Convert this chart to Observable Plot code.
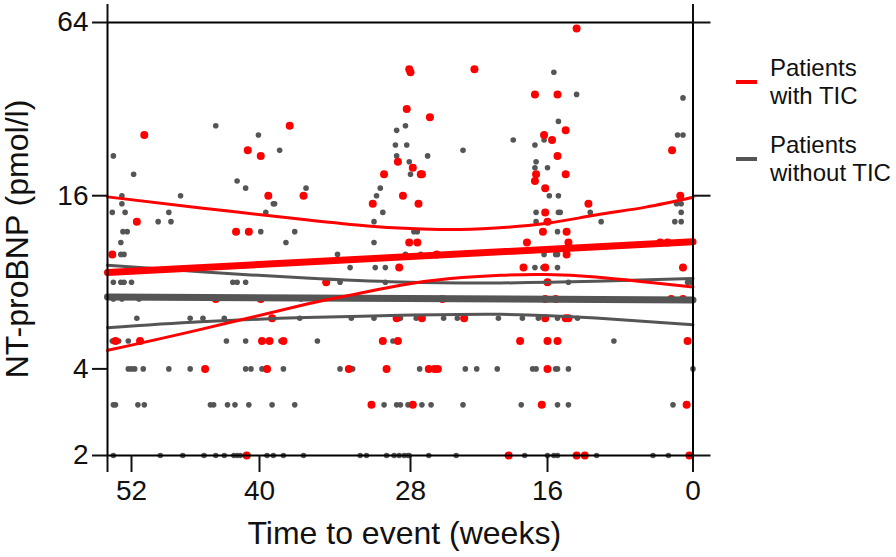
<!DOCTYPE html>
<html>
<head>
<meta charset="utf-8">
<script src="https://cdn.jsdelivr.net/npm/d3@7"></script>
<script src="https://cdn.jsdelivr.net/npm/@observablehq/plot@0.6"></script>
<style>
  html, body { margin: 0; padding: 0; background: #fff; }
  #wrap { position: relative; width: 896px; height: 557px; font-family: "Liberation Sans", Arial, sans-serif; }
  #legend .sw { position: absolute; left: 736px; width: 21px; height: 4px; }
  #legend .txt { position: absolute; left: 770px; font-size: 24px; line-height: 28px; color: #111; white-space: pre; }
</style>
</head>
<body>
<div id="wrap"><div id="chart"></div><div id="legend"></div></div>
<script>
// ---- data (x = weeks before event, y = NT-proBNP pmol/l) ----
const xTicks = [52, 40, 28, 16, 0];
const yTicks = [2, 4, 16, 64];
const xTitle = "Time to event (weeks)";
const yTitle = "NT-proBNP (pmol/l)";
const legendLabels = ["Patients\nwith TIC", "Patients\nwithout TIC"];
const legendColors = ["#ff0000", "#555555"];

const redPoints = [
  [50.8,26],[37.6,28],[41.1,23],[39.9,22],[39.3,16],[36.5,16],[51.5,13],[42.2,12],[41.0,12],[53.8,10],[44.1,7],[39.9,7],[39.0,6],[53.5,5],[51.2,5],[39.8,5],[39.2,5],[38.1,5],[45.1,4],[39.4,4],[41.2,2],
  [28.1,44],[28.0,43],[22.4,44],[28.3,32],[26.3,30],[29.0,21],[27.8,20],[27.1,19],[27.0,19],[30.1,19],[28.6,16],[31.0,15],[27.3,15],[28.1,11],[27.4,11],[25.7,10],[28.9,9],
  [17.1,36],[14.9,36],[12.8,61],[14.0,27],[16.3,26],[15.5,25],[14.9,22],[17.0,19],[17.1,18],[14.0,19],[16.2,17],[11.5,15],[16.2,14],[16.0,13],[16.4,12],[13.9,12],[17.8,11],[13.7,11],[13.9,10],[18.1,9],[16.2,9],
  [2.3,23],[1.4,16],[3.6,11],[2.8,11],[1.1,9],
  [34.7,8],[25.2,7],[29.1,6],[27.0,6],[23.3,6],[30.2,5],[29.0,5],[32.9,4],[29.9,4],[26.4,4],[25.9,4],[25.6,4],[31.1,3],[27.8,3],
  [16.0,8],[16.2,7],[15.1,7],[2.4,7],[1.1,7],[16.2,6],[14.0,6],[13.7,6],[18.4,5],[16.0,5],[14.9,5],[0.6,5],[16.0,4],[16.5,3],[0.7,3],[19.4,2],[12.8,2],[11.9,2],[0.4,2]
];

const grayPoints = [
  [44.1,28],[40.1,26],[53.7,22],[38.4,23],[51.8,19],[42.1,18],[41.3,17],[52.9,16],[52.9,15],[47.4,16],[36.3,17],[38.9,15],[38.8,15],[53.8,14],[52.6,14],[48.5,14],[39.5,14],[49.5,13],[48.3,13],[52.8,12],[52.4,12],[39.9,12],[37.2,12],[53.0,11],[37.9,11],[53.0,10],[52.7,10],
  [53.7,8],[53.0,8],[52.7,8],[52.0,8],[42.5,8],[42.1,8],[41.3,8],
  [53.7,7],[52.9,7],[51.3,7],
  [51.5,6],[46.5,6],[45.3,6],[43.3,6],[36.8,6],
  [53.8,5],[53.2,5],[52.3,5],[43.1,5],[41.3,5],[38.3,5],
  [52.3,4],[52.0,4],[51.7,4],[50.9,4],[48.5,4],[46.5,4],[41.3,4],[40.8,4],[39.8,4],[38.1,4],
  [53.7,3],[53.5,3],[51.4,3],[50.8,3],[44.6,3],[44.3,3],[43.0,3],[42.3,3],[41.0,3],[39.0,3],[37.2,3],
  [53.7,2],[49.3,2],[47.2,2],[45.2,2],[44.1,2],[43.3,2],[42.4,2],[42.1,2],[41.8,2],[39.4,2],[38.9,2],[38.1,2],[36.5,2],
  [28.4,28],[29.1,27],[29.2,24],[28.3,24],[23.4,23],[29.1,22],[26.5,22],[28.1,21],[28.0,19],[30.4,17],[30.7,16],[30.2,14],[30.9,13],[27.7,12],[27.4,12],[30.9,11],[33.8,10],[28.4,10],[27.1,10],[32.8,9],[30.8,9],[30.0,9],[33.6,8],[30.0,8],
  [36.7,7],[28.8,7],[25.5,7],
  [32.7,6],[30.9,6],[28.8,6],[27.5,6],[25.1,6],[23.9,6],
  [35.4,5],[29.4,5],
  [33.6,4],[32.6,4],[27.2,4],[23.2,4],[22.2,4],[20.4,4],
  [30.1,3],[29.1,3],[28.8,3],[28.2,3],[27.0,3],[26.2,3],[23.4,3],
  [32.0,2],[31.5,2],[29.9,2],[29.3,2],[28.9,2],[28.5,2],[28.2,2],[28.1,2],[26.4,2],[24.0,2],
  [19.0,25],[17.1,24],[15.3,43],[12.8,36],[14.8,29],[16.3,25],[17.0,21],[17.1,20],[16.0,20],[15.8,16],[14.8,16],[17.0,14],[14.8,14],[14.6,14],[11.3,14],[17.0,13],[10.1,13],[14.9,12],[16.3,10],[15.1,10],[14.9,10],[17.1,9],[16.4,9],[14.9,9],
  [1.1,35],[1.7,26],[1.1,26],[1.8,15],[1.3,15],[1.3,14],[2.0,13],[1.3,13],
  [13.7,8],[0.6,8],[0.2,8],
  [16.0,7],[13.0,7],
  [20.3,6],[18.2,6],[16.8,6],[14.9,6],[12.7,6],
  [8.7,5],
  [17.3,4],[17.0,4],[15.1,4],[14.9,4],[13.7,4],[0.0,4],
  [18.3,3],[14.9,3],[13.7,3],[2.2,3],
  [18.0,2],[16.0,2],[15.3,2],[14.9,2],[10.6,2],[4.4,2],[2.7,2]
];

// regression lines (straight on log scale) and confidence bands
const fitWeeks = [54.25, 0];
const redFit = [8.65, 11.07];
const grayFit = [7.11, 6.95];

const redUpperWeeks = [54.25, 45.5, 36.3, 31.4, 28, 24.5, 20.55, 16.2, 10.7, 5.2, 0];
const redUpper = [15.85, 14.5, 13.2, 12.56, 12.3, 12.2, 12.36, 12.8, 13.7, 14.6, 15.8];
const redLowerWeeks = [54.25, 45.5, 36.3, 32.8, 28.8, 24.5, 20.1, 16.2, 10.7, 5.2, 0];
const redLower = [4.64, 5.49, 6.71, 7.21, 7.81, 8.24, 8.46, 8.51, 8.35, 8.02, 7.71];
const grayBandWeeks = [54.25, 45.5, 36.3, 28.8, 20.1, 10.7, 0];
const grayUpper = [9.17, 8.7, 8.28, 8.02, 7.96, 8.06, 8.24];
const grayLower = [5.56, 5.83, 6.03, 6.14, 6.19, 6.01, 5.70];

// ---- build tables ----
const toRows = (pts) => pts.map(([w, v]) => ({w, v}));
const series = (ws, vs) => ws.map((w, i) => ({w, v: vs[i]}));

const RED = legendColors[0], GRAY = legendColors[1];
const font = '"Liberation Sans", Arial, sans-serif';

const chart = Plot.plot({
  width: 896,
  height: 557,
  marginLeft: 107,
  marginRight: 203.5,
  marginTop: 22,
  marginBottom: 102,
  style: {fontFamily: font, fontSize: "28px", color: "#111", background: "#fff", overflow: "visible"},
  x: {type: "linear", domain: [54.25, 52, 40, 28, 16, 0], range: [107, 131, 259, 410, 547, 692.5], axis: null},
  y: {type: "log", base: 2, domain: [2, 64], axis: null},
  marks: [
    Plot.dot(toRows(grayPoints), {x: "w", y: "v", r: 2.8, fill: GRAY}),
    Plot.dot(toRows(redPoints), {x: "w", y: "v", r: 4, fill: RED}),
    Plot.line(series(grayBandWeeks, grayUpper), {x: "w", y: "v", stroke: GRAY, strokeWidth: 3, curve: "natural"}),
    Plot.line(series(grayBandWeeks, grayLower), {x: "w", y: "v", stroke: GRAY, strokeWidth: 3, curve: "natural"}),
    Plot.line(series(fitWeeks, grayFit), {x: "w", y: "v", stroke: GRAY, strokeWidth: 7}),
    Plot.line(series(redUpperWeeks, redUpper), {x: "w", y: "v", stroke: RED, strokeWidth: 3, curve: "natural"}),
    Plot.line(series(redLowerWeeks, redLower), {x: "w", y: "v", stroke: RED, strokeWidth: 3, curve: "natural"}),
    Plot.line(series(fitWeeks, redFit), {x: "w", y: "v", stroke: RED, strokeWidth: 7}),
    Plot.frame({stroke: "#000", strokeWidth: 2}),
    Plot.axisY({anchor: "left", ticks: yTicks, tickSize: 15, tickPadding: 4, tickFormat: d => String(d), label: null, strokeWidth: 2, fontSize: 28}),
    Plot.axisY({anchor: "right", ticks: [2, 16, 64], tickSize: 17, tickFormat: () => "", label: null, strokeWidth: 2}),
    Plot.axisX({anchor: "bottom", ticks: [54.25, ...xTicks], tickSize: 17, tickPadding: 8, tickFormat: d => (xTicks.includes(d) ? String(d) : ""), label: null, strokeWidth: 2, fontSize: 28}),
    Plot.axisX({anchor: "top", ticks: [54.25, 0], tickSize: 19, tickFormat: () => "", label: null, strokeWidth: 2}),
    Plot.text([xTitle], {frameAnchor: "bottom", dy: 88, dx: 4, lineAnchor: "bottom", textAnchor: "middle", fontSize: 32, fill: "#111"}),
    Plot.text([yTitle], {frameAnchor: "left", dx: -80, lineAnchor: "bottom", textAnchor: "middle", rotate: -90, fontSize: 32, fill: "#111"})
  ]
});
document.getElementById("chart").appendChild(chart);

// ---- legend ----
const legend = d3.select("#legend");
const legendTops = [53.7, 131];
legendLabels.forEach((lab, i) => {
  legend.append("div").attr("class", "sw").style("top", (legendTops[i] + 26) + "px").style("background", legendColors[i]);
  legend.append("div").attr("class", "txt").style("top", legendTops[i] + "px").text(lab);
});
</script>
</body>
</html>
